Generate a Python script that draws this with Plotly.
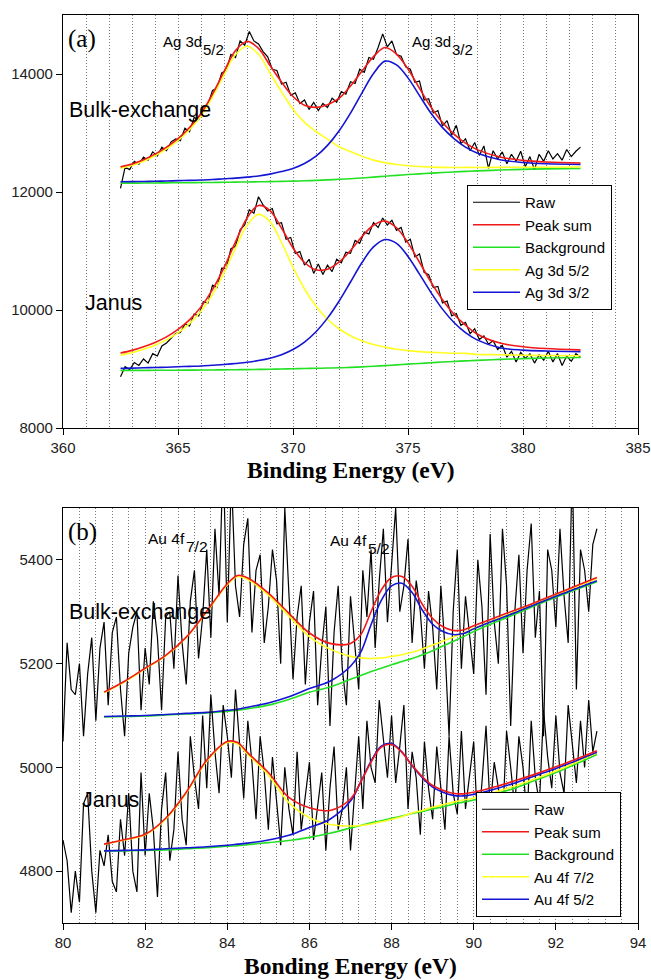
import plotly.graph_objects as go

# ---------------- Panel (a): Ag 3d ----------------
ag_fit_energy = [362.5, 363, 363.5, 364, 364.5, 365, 365.5, 366, 366.5, 367, 367.5, 368,
                 368.5, 369, 369.5, 370, 370.5, 371, 371.5, 372, 372.5, 373, 373.5, 374,
                 374.5, 375, 375.5, 376, 376.5, 377, 377.5, 378, 379, 380, 381, 382.5]

ag_bulk_bg = [12150, 12150, 12152, 12153, 12155, 12157, 12158, 12160, 12162, 12165, 12167, 12170,
              12173, 12176, 12180, 12185, 12190, 12197, 12205, 12215, 12225, 12238, 12252, 12268,
              12282, 12296, 12308, 12320, 12330, 12340, 12350, 12358, 12372, 12384, 12392, 12400]
ag_bulk_52 = [12403, 12449, 12520, 12613, 12730, 12870, 13055, 13287, 13611, 13982, 14329, 14470,
              14335, 14016, 13698, 13404, 13179, 13025, 12895, 12767, 12685, 12606, 12540, 12498,
              12466, 12446, 12432, 12424, 12417, 12416, 12417, 12416, 12418, 12419, 12420, 12423]
ag_bulk_32 = [12173, 12175, 12179, 12182, 12186, 12192, 12197, 12203, 12211, 12224, 12235, 12252,
              12271, 12303, 12346, 12400, 12483, 12607, 12790, 13034, 13337, 13681, 14007, 14218,
              14154, 13934, 13634, 13334, 13091, 12906, 12760, 12660, 12547, 12501, 12480, 12468]
ag_bulk_sum = [12426, 12474, 12547, 12642, 12761, 12905, 13094, 13330, 13660, 14041, 14397, 14552,
               14433, 14143, 13864, 13619, 13472, 13435, 13480, 13586, 13797, 14049, 14295, 14448,
               14338, 14084, 13758, 13438, 13178, 12982, 12827, 12718, 12593, 12536, 12508, 12491]

ag_janus_bg = [8975, 8976, 8977, 8978, 8979, 8980, 8981, 8982, 8984, 8986, 8988, 8990,
               8993, 8996, 9000, 9004, 9008, 9012, 9016, 9020, 9028, 9036, 9046, 9058,
               9070, 9082, 9094, 9106, 9118, 9128, 9138, 9147, 9163, 9176, 9186, 9195]
ag_janus_52 = [9235, 9278, 9334, 9404, 9494, 9613, 9769, 9983, 10266, 10628, 11048, 11434,
               11621, 11498, 11144, 10725, 10356, 10063, 9844, 9682, 9564, 9477, 9414, 9371,
               9335, 9312, 9295, 9282, 9276, 9267, 9264, 9247, 9242, 9234, 9228, 9224]
ag_janus_32 = [9011, 9014, 9020, 9025, 9030, 9038, 9045, 9052, 9064, 9077, 9094, 9114,
               9143, 9183, 9243, 9331, 9457, 9631, 9862, 10148, 10474, 10805, 11069, 11194,
               11129, 10908, 10608, 10296, 10015, 9788, 9616, 9494, 9360, 9320, 9305, 9295]
ag_janus_sum = [9271, 9316, 9377, 9451, 9545, 9671, 9833, 10053, 10346, 10719, 11154, 11558,
                11771, 11685, 11387, 11052, 10805, 10682, 10690, 10810, 11010, 11246, 11437, 11507,
                11394, 11138, 10809, 10472, 10173, 9927, 9742, 9594, 9439, 9378, 9347, 9324]

ag_raw_start = 362.5
ag_raw_step = 0.2
ag_bulk_raw = [12060, 12420, 12380, 12520, 12470, 12590, 12540, 12680, 12610, 12760,
               12700, 12850, 12900, 12870, 13080, 13020, 13260, 13230, 13450, 13480,
               13720, 13760, 14020, 14060, 14330, 14280, 14560, 14490, 14720, 14560,
               14510, 14380, 14290, 14080, 14060, 13830, 13860, 13640, 13680, 13500,
               13560, 13400, 13520, 13380, 13500, 13430, 13590, 13520, 13700, 13660,
               13870, 13840, 14080, 14030, 14280, 14250, 14450, 14680, 14460, 14560,
               14330, 14300, 14120, 14080, 13860, 13880, 13560, 13580, 13340, 13380,
               13120, 13210, 12960, 13130, 12820, 12900, 12700, 12840, 12620, 12780,
               12400, 12700, 12560, 12680, 12480, 12640, 12520, 12690, 12430, 12600,
               12380, 12640, 12520, 12700, 12560, 12650, 12540, 12720, 12600, 12690,
               12760]
ag_janus_raw = [8870, 9040, 8990, 9110, 9060, 9170, 9100, 9260, 9220, 9390,
                9440, 9520, 9600, 9620, 9760, 9730, 9930, 9900, 10140, 10120,
                10420, 10380, 10710, 10700, 11040, 11080, 11360, 11440, 11700, 11640,
                11920, 11780, 11680, 11720, 11460, 11480, 11200, 11230, 10960, 10990,
                10760, 10860, 10620, 10780, 10600, 10760, 10650, 10860, 10800, 10980,
                10960, 11180, 11130, 11320, 11290, 11480, 11400, 11560, 11440, 11520,
                11350, 11400, 11150, 11200, 10900, 10950, 10640, 10600, 10380, 10400,
                10120, 10150, 9900, 9940, 9740, 9790, 9600, 9680, 9500, 9560,
                9420, 9480, 9330, 9400, 9200, 9300, 9120, 9280, 9180, 9260,
                9100, 9240, 9150, 9300, 9120, 9260, 9060, 9220, 9130, 9260,
                9200]

# ---------------- Panel (b): Au 4f ----------------
au_fit_energy = [81, 81.5, 82, 82.5, 83, 83.5, 84, 84.25, 84.5, 85, 85.5, 86, 86.5, 87, 87.25,
                 87.5, 87.75, 88, 88.25, 88.5, 88.75, 89, 89.25, 89.5, 89.75, 90, 90.5, 91,
                 91.5, 92, 92.5, 93]

au_bulk_bg = [5097, 5098, 5099, 5101, 5103, 5105, 5108, 5110, 5113, 5120, 5131, 5145, 5155, 5170,
              5177, 5185, 5191, 5198, 5204, 5210, 5217, 5225, 5234, 5243, 5252, 5262, 5279, 5295,
              5312, 5328, 5343, 5358]
au_bulk_72 = [5144, 5165, 5190, 5215, 5250, 5300, 5352, 5368, 5362, 5332, 5292, 5252, 5228, 5214,
              5211, 5210, 5211, 5214, 5217, 5222, 5228, 5236, 5243, 5251, 5259, 5268, 5284, 5300,
              5316, 5332, 5348, 5364]
au_bulk_52 = [5098, 5099, 5100, 5102, 5104, 5106, 5110, 5112, 5116, 5124, 5136, 5152, 5166, 5195,
              5222, 5275, 5322, 5350, 5355, 5337, 5303, 5276, 5262, 5256, 5258, 5267, 5283, 5298,
              5314, 5330, 5345, 5360]
au_bulk_sum = [5145, 5166, 5191, 5216, 5251, 5301, 5354, 5370, 5365, 5336, 5297, 5259, 5239, 5239,
               5256, 5300, 5342, 5366, 5368, 5349, 5314, 5287, 5271, 5264, 5265, 5273, 5288, 5303,
               5318, 5334, 5350, 5366]

au_janus_bg = [4839, 4839, 4840, 4841, 4843, 4845, 4848, 4849, 4851, 4855, 4859, 4865, 4873, 4883,
               4888, 4893, 4897, 4902, 4906, 4911, 4915, 4920, 4924, 4929, 4933, 4937, 4948, 4960,
               4975, 4990, 5007, 5025]
au_janus_72 = [4852, 4860, 4870, 4900, 4950, 5012, 5048, 5045, 5025, 4985, 4932, 4903, 4890, 4887,
               4888, 4891, 4895, 4900, 4905, 4912, 4917, 4923, 4928, 4933, 4937, 4941, 4952, 4964,
               4978, 4993, 5010, 5028]
au_janus_52 = [4839, 4840, 4841, 4843, 4845, 4847, 4850, 4852, 4854, 4860, 4869, 4884, 4900, 4935,
               4972, 5012, 5041, 5046, 5030, 5003, 4980, 4962, 4952, 4946, 4945, 4948, 4958, 4970,
               4984, 4998, 5013, 5029]
au_janus_sum = [4852, 4861, 4871, 4902, 4952, 5014, 5050, 5048, 5028, 4990, 4942, 4922, 4917, 4939,
                4972, 5010, 5039, 5044, 5029, 5004, 4982, 4965, 4956, 4950, 4949, 4952, 4962, 4974,
                4987, 5001, 5016, 5032]

au_raw_start = 80.0
au_raw_step = 0.1
au_bulk_raw = [5050, 5240, 5150, 5140, 5200, 5060, 5180, 5250, 5090, 5230,
               5280, 5120, 5260, 5290, 5150, 5060, 5220, 5270, 5300, 5110,
               5230, 5160, 5320, 5250, 5110, 5290, 5300, 5190, 5370, 5240,
               5160, 5320, 5380, 5210, 5290, 5420, 5250, 5460, 5330, 5600,
               5280, 5560, 5350, 5290, 5430, 5480, 5260, 5380, 5410, 5240,
               5310, 5420, 5360, 5200, 5500, 5330, 5170, 5290, 5350, 5160,
               5280, 5340, 5120, 5230, 5310, 5080, 5260, 5350, 5190, 5120,
               5330, 5240, 5150, 5380, 5290, 5420, 5230, 5360, 5460, 5280,
               5390, 5500, 5300, 5350, 5440, 5240, 5360, 5300, 5190, 5340,
               5270, 5150, 5350, 5230, 5060, 5300, 5420, 5190, 5330, 5260,
               5180, 5400, 5310, 5140, 5450, 5280, 5200, 5460, 5350, 5080,
               5300, 5410, 5220, 5380, 5470, 5250, 5340, 5060, 5420, 5380,
               5270, 5460, 5330, 5240, 5580, 5150, 5420, 5380, 5300, 5430,
               5460]
au_janus_raw = [4860, 4820, 4720, 4800, 4740, 4930, 4950, 4800, 4720, 4840,
                4810, 4870, 4780, 4760, 4900, 4830, 4950, 4800, 4760, 4990,
                4830, 4950, 4880, 4750, 4920, 4990, 4820, 4880, 5030, 4900,
                4850, 5060, 4980, 4920, 5100, 4960, 5140, 5030, 4950, 5120,
                5060, 4980, 5150, 5050, 4940, 5090, 5010, 4900, 5060, 4990,
                4880, 5020, 4940, 4850, 5000, 4920, 4870, 5030, 4880, 4950,
                5010, 4860, 4930, 4990, 4840, 4960, 5040, 4880, 4920, 5000,
                4840, 4950, 5060, 4920, 5090, 5000, 4970, 5130, 5050, 4980,
                5100, 4970, 5040, 5120, 4920, 5030, 4980, 4870, 5050, 4960,
                4900, 5040, 4960, 4880, 5060, 4950, 4910, 5070, 4920, 4990,
                5050, 4880, 4970, 5080, 4920, 5010, 4960, 4890, 5070, 5000,
                4920, 5060, 5000, 4900, 5090, 4980, 4930, 5110, 5020, 4960,
                5100, 4990, 4950, 5120, 5040, 4970, 5090, 5000, 5130, 5030,
                5070]

legend_a = ["Raw", "Peak sum", "Background", "Ag 3d 5/2", "Ag 3d 3/2"]
legend_b = ["Raw", "Peak sum", "Background", "Au 4f 7/2", "Au 4f 5/2"]

# ---------------- styling ----------------
W, H = 651, 980
C_RAW = "#000000"
C_SUM = "#f01818"
C_BG = "#22e022"
C_P1 = "#ffff22"
C_P2 = "#1414d4"
SANS = "Liberation Sans, Arial, sans-serif"
SERIF = "Liberation Serif, Times New Roman, serif"


def px(x):
    return x / W


def py(y):
    return 1 - y / H


def grid(start, step, n):
    return [round(start + step * i, 3) for i in range(n)]


fig = go.Figure()


def add_panel(xa, ya, leg, names, fit_e, raw_start, raw_step, sets, raw_w):
    for k, (raw, bg, p1, p2, s) in enumerate(sets):
        show = (k == 0)
        rx = grid(raw_start, raw_step, len(raw))
        fig.add_trace(go.Scatter(x=rx, y=raw, mode="lines", name=names[0],
                                 line=dict(color=C_RAW, width=raw_w),
                                 xaxis=xa, yaxis=ya, legend=leg, showlegend=show,
                                 legendrank=1))
        fig.add_trace(go.Scatter(x=fit_e, y=bg, mode="lines", name=names[2],
                                 line=dict(color=C_BG, width=1.6, shape="spline"),
                                 xaxis=xa, yaxis=ya, legend=leg, showlegend=show,
                                 legendrank=3))
        fig.add_trace(go.Scatter(x=fit_e, y=p1, mode="lines", name=names[3],
                                 line=dict(color=C_P1, width=1.6, shape="spline"),
                                 xaxis=xa, yaxis=ya, legend=leg, showlegend=show,
                                 legendrank=4))
        fig.add_trace(go.Scatter(x=fit_e, y=p2, mode="lines", name=names[4],
                                 line=dict(color=C_P2, width=1.6, shape="spline"),
                                 xaxis=xa, yaxis=ya, legend=leg, showlegend=show,
                                 legendrank=5))
        fig.add_trace(go.Scatter(x=fit_e, y=s, mode="lines", name=names[1],
                                 line=dict(color=C_SUM, width=1.6, shape="spline"),
                                 xaxis=xa, yaxis=ya, legend=leg, showlegend=show,
                                 legendrank=2))


add_panel("x", "y", "legend", legend_a, ag_fit_energy, ag_raw_start, ag_raw_step,
          [(ag_bulk_raw, ag_bulk_bg, ag_bulk_52, ag_bulk_32, ag_bulk_sum),
           (ag_janus_raw, ag_janus_bg, ag_janus_52, ag_janus_32, ag_janus_sum)], 1.2)
add_panel("x2", "y2", "legend2", legend_b, au_fit_energy, au_raw_start, au_raw_step,
          [(au_bulk_raw, au_bulk_bg, au_bulk_72, au_bulk_52, au_bulk_sum),
           (au_janus_raw, au_janus_bg, au_janus_72, au_janus_52, au_janus_sum)], 1.2)

GRID = "#7a7a7a"
DOT = "1px,2px"
common_x = dict(ticks="outside", ticklen=6, tickwidth=1, tickcolor="black",
                showline=True, linecolor="black", linewidth=1.2, mirror=True,
                showgrid=True, gridcolor=GRID, griddash=DOT, gridwidth=1,
                zeroline=False, automargin=False, tickformat="d",
                tickfont=dict(family=SANS, size=15, color="#222"))
common_y = dict(ticks="outside", ticklen=6, tickwidth=1, tickcolor="black",
                showline=True, linecolor="black", linewidth=1.2, mirror=True,
                showgrid=False, zeroline=False, automargin=False, tickformat="d",
                tickfont=dict(family=SANS, size=15, color="#222"))

xdom = [px(63), px(638)]
legend_common = dict(xanchor="left", yanchor="top", bordercolor="black", borderwidth=1,
                     bgcolor="white", font=dict(family=SANS, size=15, color="black"),
                     tracegroupgap=0, itemwidth=47)
fig.update_layout(
    template="none",
    width=W, height=H, margin=dict(l=0, r=0, t=0, b=0, autoexpand=False),
    paper_bgcolor="white", plot_bgcolor="white",
    xaxis=dict(domain=xdom, range=[360, 385], tick0=360, dtick=5, anchor="y",
               minor=dict(dtick=1, tick0=360, showgrid=True, gridcolor=GRID,
                          griddash=DOT, gridwidth=1, ticks=""), **common_x),
    yaxis=dict(domain=[py(428), py(15)], range=[8000, 15000], tick0=8000, dtick=2000,
               anchor="x", **common_y),
    xaxis2=dict(domain=xdom, range=[80, 94], tick0=80, dtick=2, anchor="y2",
                minor=dict(dtick=0.4, tick0=80, showgrid=True, gridcolor=GRID,
                           griddash=DOT, gridwidth=1, ticks=""), **common_x),
    yaxis2=dict(domain=[py(923), py(508)], range=[4700, 5500], tick0=4800, dtick=200,
                anchor="x2", **common_y),
    legend=dict(x=px(467), y=py(185), **legend_common),
    legend2=dict(x=px(476), y=py(792), **legend_common),
    showlegend=True,
)


def note(text, x, y, size, family=SANS, xanchor="left", bold=False):
    fig.add_annotation(text=("<b>%s</b>" % text) if bold else text,
                       x=px(x), y=py(y), xref="paper", yref="paper",
                       xanchor=xanchor, yanchor="middle", showarrow=False,
                       borderpad=0, font=dict(family=family, size=size, color="black"))


# panel (a) labels
note("(a)", 67, 39, 25, SERIF)
note("Ag 3d", 162, 42, 15)
note("5/2", 201.5, 50, 15)
note("Ag 3d", 411, 42, 15)
note("3/2", 450.5, 50, 15)
note("Bulk-exchange", 68, 110, 21.5)
note("Janus", 84, 303, 21.5)
note("Binding Energy (eV)", 350.5, 470, 23.5, SERIF, xanchor="center", bold=True)

# panel (b) labels
note("(b)", 67, 532, 25, SERIF)
note("Au 4f", 147, 538, 15.5)
note("7/2", 184.5, 546, 15.5)
note("Au 4f", 329, 540, 15.5)
note("5/2", 366.5, 548, 15.5)
note("Bulk-exchange", 68, 612, 21.5)
note("Janus", 81, 800, 21.5)
note("Bonding Energy (eV)", 350.5, 966, 23.5, SERIF, xanchor="center", bold=True)

fig.write_html("out.html")
